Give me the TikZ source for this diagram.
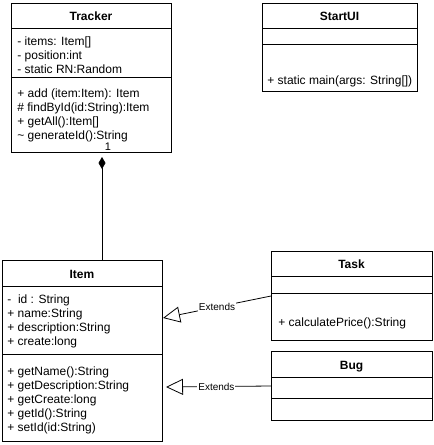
\documentclass[tikz,border=0pt]{standalone}
\usepackage{fontspec}
\setmainfont{Liberation Sans}
\usetikzlibrary{arrows.meta,calc}
\begin{document}
\begin{tikzpicture}[x=1pt,y=-1pt,line width=0.8pt,
  box/.style={draw,anchor=north west,inner sep=0,outer sep=0},
  txt/.style={anchor=base west,inner sep=0,font=\fontsize{12}{14}\selectfont},
  ttl/.style={anchor=base,inner sep=0,font=\fontsize{12}{14}\selectfont\bfseries},
  lbl/.style={fill=white,inner sep=1pt,font=\fontsize{10}{12}\selectfont},
  ext/.style={-{Triangle[open,length=17pt,width=16pt]}},
]
\useasboundingbox (0,0) rectangle (434,445);
% Tracker
\node[box,minimum width=160pt,minimum height=149pt] (tracker) at (11,3) {};
\draw (11,28) -- (171,28) (11,77) -- (171,77);
\node[ttl] (trackerT) at (91,20) {Tracker};
\node[txt] (tr1) at (17,45) {- items: Item[]};
\node[txt] (tr2) at (17,59) {- position:int};
\node[txt] (tr3) at (17,73) {- static RN:Random};
\node[txt] (tr4) at (17,97) {+ add (item:Item): Item};
\node[txt] (tr5) at (17,111) {\# findById(id:String):Item};
\node[txt] (tr6) at (17,125) {+ getAll():Item[]};
\node[txt] (tr7) at (17,139) {\textasciitilde{} generateId():String};
% StartUI
\node[box,minimum width=155pt,minimum height=88pt] (startui) at (262,3) {};
\draw (262,28) -- (417,28) (262,44) -- (417,44);
\node[ttl] (startuiT) at (339.5,20) {StartUI};
\node[txt] (su1) at (267,84) {+ static main(args: String[])};
% Item
\node[box,minimum width=160pt,minimum height=181pt] (item) at (2,260) {};
\draw (2,286) -- (162,286) (2,354) -- (162,354);
\node[ttl] (itemT) at (82,278) {Item};
\node[txt] (it1) at (7,303) {-\ \ id : String};
\node[txt] (it2) at (7,317) {+ name:String};
\node[txt] (it3) at (7,331) {+ description:String};
\node[txt] (it4) at (7,345) {+ create:long};
\node[txt] (it5) at (7,375) {+ getName():String};
\node[txt] (it6) at (7,389) {+ getDescription:String};
\node[txt] (it7) at (7,403) {+ getCreate:long};
\node[txt] (it8) at (7,417) {+ getId():String};
\node[txt] (it9) at (7,431) {+ setId(id:String)};
% Task
\node[box,minimum width=161pt,minimum height=89pt] (task) at (271,251) {};
\draw (271,276) -- (432,276) (271,293) -- (432,293);
\node[ttl] (taskT) at (351.5,268) {Task};
\node[txt] (ta1) at (278,326) {+ calculatePrice():String};
% Bug
\node[box,minimum width=161pt,minimum height=69pt] (bug) at (271,351) {};
\draw (271,377) -- (432,377) (271,398) -- (432,398);
\node[ttl] (bugT) at (351.5,369) {Bug};
% composition
\coordinate (cs) at ($(tracker.south west)+(91,5)$);
\draw[{Diamond[length=12pt,width=7pt]}-] (cs) -- (cs |- item.north);
\node[lbl,font=\fontsize{11}{12}\selectfont] (mult) at (108,147) {1};
% extends
\draw[ext] ($(task.north west)+(0,45)$) -- node[lbl,pos=0.5] (e1) {Extends} ($(item.north east)+(1,58)$);
\draw[ext] ($(bug.north west)+(0,35)$) -- node[lbl,pos=0.52] (e2) {Extends} ($(item.north east)+(4,127)$);
\end{tikzpicture}
\end{document}
